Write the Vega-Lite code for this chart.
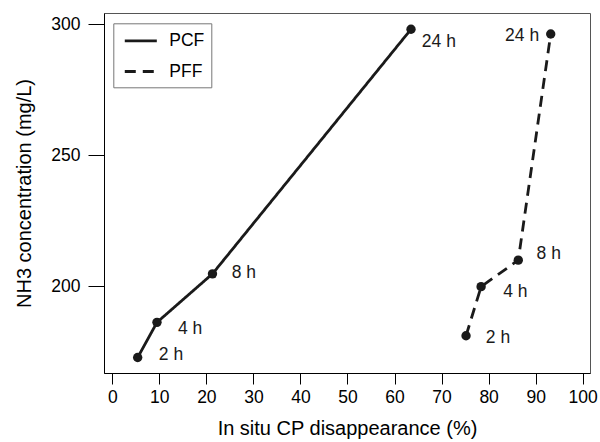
{
  "$schema": "https://vega.github.io/schema/vega-lite/v6.json",
  "width": 486,
  "height": 360,
  "autosize": {"type": "none"},
  "padding": {"left": 104, "top": 13, "right": 10, "bottom": 69},
  "background": "white",
  "config": {
    "font": "Liberation Sans",
    "view": {"stroke": "#555555", "strokeWidth": 1},
    "axis": {
      "grid": false,
      "domainColor": "black",
      "domainWidth": 1,
      "tickColor": "black",
      "tickWidth": 1,
      "labelColor": "black",
      "labelFontSize": 17.5,
      "titleColor": "black",
      "titleFontSize": 20,
      "titleFontWeight": "normal"
    }
  },
  "data": {
    "values": [
      {"diet": "PCF", "hour": 2, "cp": 5.4, "nh3": 172.9, "label": "2 h", "lx": 9.9, "ly": 173.7},
      {"diet": "PCF", "hour": 4, "cp": 9.5, "nh3": 186.3, "label": "4 h", "lx": 13.95, "ly": 183.6},
      {"diet": "PCF", "hour": 8, "cp": 21.3, "nh3": 204.8, "label": "8 h", "lx": 25.4, "ly": 205.0},
      {"diet": "PCF", "hour": 24, "cp": 63.5, "nh3": 298.0, "label": "24 h", "lx": 65.8, "ly": 293.1},
      {"diet": "PFF", "hour": 2, "cp": 75.2, "nh3": 181.2, "label": "2 h", "lx": 79.4, "ly": 180.5},
      {"diet": "PFF", "hour": 4, "cp": 78.4, "nh3": 199.9, "label": "4 h", "lx": 83.1, "ly": 197.8},
      {"diet": "PFF", "hour": 8, "cp": 86.3, "nh3": 210.0, "label": "8 h", "lx": 90.2, "ly": 212.5},
      {"diet": "PFF", "hour": 24, "cp": 93.2, "nh3": 296.2, "label": "24 h", "lx": 83.5, "ly": 295.4}
    ]
  },
  "layer": [
    {
      "mark": {"type": "line", "color": "#1a1a1a", "strokeWidth": 2.8},
      "encoding": {
        "x": {
          "field": "cp", "type": "quantitative",
          "scale": {"domain": [-1.76, 101.55], "nice": false, "zero": false},
          "axis": {"title": "In situ CP disappearance (%)", "values": [0, 10, 20, 30, 40, 50, 60, 70, 80, 90, 100], "tickSize": 11, "labelPadding": 4, "titlePadding": 13}
        },
        "y": {
          "field": "nh3", "type": "quantitative",
          "scale": {"domain": [167.0, 304.2], "nice": false, "zero": false},
          "axis": {"title": "NH3 concentration (mg/L)", "values": [200, 250, 300], "tickSize": 16, "labelPadding": 8, "titlePadding": 16}
        },
        "strokeDash": {
          "field": "diet", "type": "nominal",
          "scale": {"domain": ["PCF", "PFF"], "range": [[1, 0], [11, 7]]},
          "legend": {
            "title": null,
            "orient": "none",
            "legendX": 9.3,
            "legendY": 10.3,
            "padding": 7,
            "strokeColor": "#777777",
            "fillColor": "white",
            "symbolType": "M-1.78,0H1.78",
            "symbolSize": 324,
            "symbolStrokeColor": "#1a1a1a",
            "symbolStrokeWidth": 2.8,
            "symbolOffset": 10,
            "labelOffset": 18,
            "labelFontSize": 17.5,
            "labelColor": "black",
            "labelExpr": "datum.label + '   '",
            "rowPadding": 11.7
          }
        },
        "order": {"field": "hour", "type": "quantitative"}
      }
    },
    {
      "mark": {"type": "point", "filled": true, "size": 88, "color": "#1a1a1a", "opacity": 1},
      "encoding": {
        "x": {"field": "cp", "type": "quantitative"},
        "y": {"field": "nh3", "type": "quantitative"}
      }
    },
    {
      "mark": {"type": "text", "align": "left", "baseline": "middle", "fontSize": 17.5, "color": "#1a1a1a"},
      "encoding": {
        "x": {"field": "lx", "type": "quantitative"},
        "y": {"field": "ly", "type": "quantitative"},
        "text": {"field": "label"}
      }
    }
  ]
}
